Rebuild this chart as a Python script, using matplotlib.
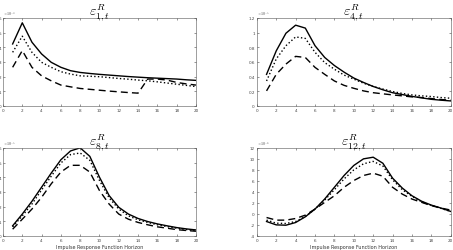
import matplotlib
matplotlib.use('Agg')
import matplotlib.pyplot as plt
import numpy as np

plt.rcParams['mathtext.fontset'] = 'cm'

h = np.arange(1, 21)

# panel 1 (x1e-4)
p1_solid = [4.22, 5.66, 4.34, 3.54, 2.97, 2.63, 2.40, 2.28, 2.21, 2.15, 2.10, 2.05, 2.00, 1.96, 1.92, 1.89, 1.86, 1.83, 1.78, 1.74]
p1_dot = [3.65, 4.75, 3.65, 2.97, 2.63, 2.33, 2.17, 2.05, 2.02, 1.99, 1.93, 1.87, 1.82, 1.76, 1.71, 1.64, 1.56, 1.48, 1.40, 1.32]
p1_dash = [2.63, 3.77, 2.63, 2.05, 1.71, 1.42, 1.30, 1.19, 1.13, 1.07, 1.01, 0.96, 0.91, 0.87, 1.83, 1.83, 1.76, 1.60, 1.50, 1.42]

# panel 2 (x1e-5)
p2_solid = [0.43, 0.75, 0.99, 1.10, 1.06, 0.82, 0.66, 0.55, 0.46, 0.38, 0.32, 0.265, 0.22, 0.18, 0.155, 0.13, 0.11, 0.09, 0.078, 0.068]
p2_dot = [0.34, 0.64, 0.82, 0.94, 0.92, 0.73, 0.59, 0.50, 0.42, 0.365, 0.31, 0.265, 0.23, 0.196, 0.17, 0.15, 0.137, 0.128, 0.114, 0.105]
p2_dash = [0.205, 0.43, 0.57, 0.675, 0.66, 0.525, 0.43, 0.34, 0.28, 0.24, 0.205, 0.18, 0.165, 0.15, 0.137, 0.123, 0.114, 0.10, 0.087, 0.078]

# panel 3 (x1e-5)
p3_solid = [0.69, 1.49, 2.36, 3.32, 4.28, 5.19, 5.79, 6.0, 5.42, 4.0, 2.75, 1.95, 1.49, 1.19, 0.98, 0.82, 0.69, 0.57, 0.48, 0.41]
p3_dot = [0.62, 1.37, 2.17, 3.13, 4.07, 4.97, 5.54, 5.65, 5.15, 3.78, 2.59, 1.83, 1.37, 1.10, 0.92, 0.76, 0.64, 0.53, 0.43, 0.37]
p3_dash = [0.46, 1.14, 1.83, 2.63, 3.55, 4.35, 4.81, 4.81, 4.35, 3.09, 2.17, 1.49, 1.14, 0.92, 0.76, 0.62, 0.53, 0.43, 0.37, 0.32]

# panel 4 (x1e-6)
p4_solid = [-1.38, -1.99, -2.05, -1.56, -0.52, 0.88, 2.71, 4.84, 6.98, 8.8, 10.0, 10.3, 9.2, 6.5, 4.7, 3.3, 2.3, 1.6, 1.06, 0.45]
p4_dot = [-1.13, -1.68, -1.74, -1.38, -0.46, 0.88, 2.52, 4.4, 6.36, 8.0, 9.1, 9.54, 8.7, 6.2, 4.4, 3.2, 2.2, 1.55, 1.0, 0.45]
p4_dash = [-0.65, -1.13, -1.13, -0.83, -0.22, 0.88, 2.1, 3.3, 4.84, 6.06, 6.98, 7.4, 6.85, 4.84, 3.6, 2.7, 2.1, 1.5, 1.06, 0.7]

titles = [r'$\varepsilon^R_{1,t}$', r'$\varepsilon^R_{4,t}$', r'$\varepsilon^R_{8,t}$', r'$\varepsilon^R_{12,t}$']
series = [(p1_solid, p1_dot, p1_dash), (p2_solid, p2_dot, p2_dash),
          (p3_solid, p3_dot, p3_dash), (p4_solid, p4_dot, p4_dash)]
yticks = [np.arange(0, 6.01, 1), np.arange(0, 1.21, 0.2), np.arange(0, 6.01, 1), np.arange(-4, 12.1, 2)]
ylims = [(0, 6), (0, 1.2), (0, 6), (-4, 12)]
exps = ['-4', '-5', '-5', '-6']
xtick_vals = np.arange(0, 21, 2)

fig = plt.figure(figsize=(4.53, 2.51), dpi=100)
boxes = [[0.0066, 0.574, 0.426, 0.351], [0.567, 0.574, 0.428, 0.351],
         [0.0066, 0.056, 0.426, 0.351], [0.567, 0.056, 0.428, 0.351]]

for i in range(4):
    ax = fig.add_axes(boxes[i])
    s, d, dd = series[i]
    ax.plot(h, s, '-', color='black', lw=1.0)
    ax.plot(h, d, ':', color='black', lw=1.0)
    ax.plot(h, dd, '--', color='black', lw=1.0, dashes=(5, 3))
    ax.set_xlim(0, 20)
    ax.set_ylim(*ylims[i])
    ax.set_xticks(xtick_vals)
    ax.set_yticks(yticks[i])
    ax.set_yticklabels(['%g' % v for v in yticks[i]])
    ax.tick_params(direction='in', length=1.5, width=0.4, labelsize=3, pad=1.5,
                   top=True, right=True, colors='#444444')
    for sp in ax.spines.values():
        sp.set_linewidth(0.4)
        sp.set_color('#555555')
    ax.set_title(titles[i], fontsize=10, pad=2.5)
    ax.text(0, 1.005, r'$\times10^{%s}$' % exps[i], transform=ax.transAxes,
            fontsize=3, color='#444444', va='bottom', ha='left')
    if i >= 2:
        ax.set_xlabel('Impulse Response Function Horizon', fontsize=3.5, labelpad=1.5, color='#333333')

fig.savefig('out.png', dpi=100)
